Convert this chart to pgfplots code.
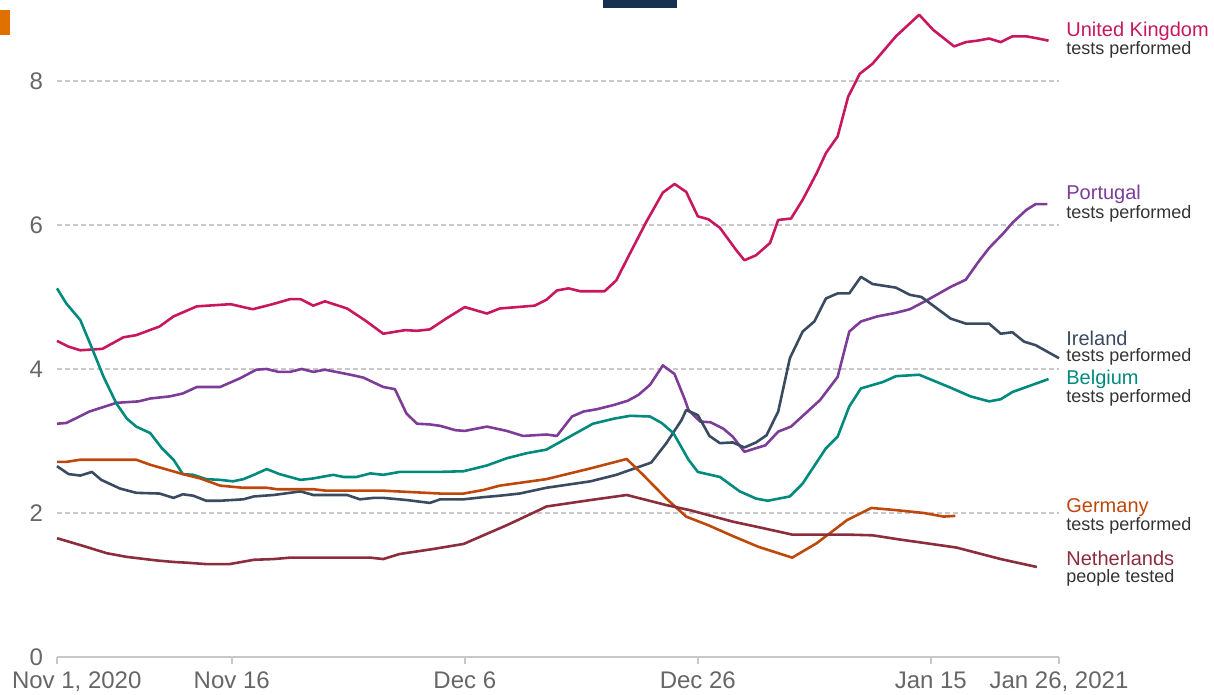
\documentclass[border=0pt]{standalone}
\usepackage{pgfplots}
\pgfplotsset{compat=1.18}
\usepackage{fontspec}
\setmainfont{Liberation Sans}
\definecolor{ukc}{RGB}{200,23,95}
\definecolor{ptc}{RGB}{125,60,152}
\definecolor{iec}{RGB}{58,74,96}
\definecolor{bec}{RGB}{0,138,126}
\definecolor{dec}{RGB}{190,72,12}
\definecolor{nlc}{RGB}{140,45,60}
\definecolor{tickc}{RGB}{102,102,102}
\definecolor{subc}{RGB}{51,51,51}
\definecolor{gridc}{RGB}{200,200,200}
\definecolor{orsq}{RGB}{224,112,0}
\definecolor{navy}{RGB}{22,50,80}
\begin{document}
\begin{tikzpicture}
\begin{axis}[
  scale only axis, width=501bp, height=328.5bp,
  xmin=0, xmax=86, ymin=0, ymax=9.125,
  clip=false,
  axis x line*=bottom, axis y line*=left,
  x axis line style={-, draw=gridc, line width=0.8pt},
  y axis line style={draw=none},
  ytick={0,2,4,6,8},
  ymajorgrids, major grid style={dash pattern=on 2.5bp off 1.5bp, draw=gridc, line width=0.6pt},
  ytick style={draw=none},
  xtick={0,15,35,55,75,86},
  xticklabels={{\makebox[0pt][l]{\hspace*{-22.5bp}Nov 1, 2020}},{Nov 16},{Dec 6},{Dec 26},{Jan 15},{Jan 26, 2021}},
  xtick pos=bottom, tick align=outside,
  major tick length=3.5bp,
  xtick style={draw=gridc, line width=0.8pt},
  tick label style={font=\fontsize{12bp}{14bp}\selectfont, text=tickc},
  xticklabel style={yshift=-0.5bp},
  /pgf/number format/assume math mode=true,
  every axis plot/.append style={line width=1.3pt, line join=round, no markers},
]
\coordinate (A) at (rel axis cs:0,0);
\coordinate (B) at (rel axis cs:1,1);
% United Kingdom
\addplot[ukc] coordinates {(0,4.39)(1,4.31)(2,4.26)(3.9,4.28)(5.7,4.44)(6.8,4.47)(8.8,4.59)(10,4.73)(12,4.87)(14.9,4.90)(16.8,4.83)(18.5,4.90)(20,4.97)(20.9,4.97)(22,4.88)(23,4.94)(24.9,4.84)(26.4,4.68)(28,4.49)(29.9,4.54)(30.9,4.53)(32,4.55)(33.4,4.70)(35,4.86)(36.9,4.77)(38,4.84)(41,4.88)(42,4.96)(42.9,5.09)(43.9,5.12)(44.9,5.08)(47,5.08)(48,5.23)(49,5.55)(50.6,6.05)(52,6.45)(53,6.57)(54,6.46)(55,6.12)(55.9,6.08)(56.9,5.96)(58.3,5.65)(59,5.51)(60,5.58)(61.2,5.75)(61.9,6.07)(63,6.09)(64,6.35)(65.2,6.72)(66,7.0)(67,7.23)(67.9,7.78)(68.9,8.10)(70,8.24)(72,8.62)(74,8.92)(75.2,8.71)(77,8.48)(78,8.54)(79,8.56)(80,8.59)(81,8.54)(82,8.62)(83.2,8.62)(84.2,8.59)(85.1,8.56)};
% Portugal
\addplot[ptc] coordinates {(0,3.24)(0.8,3.25)(2.8,3.41)(5.1,3.53)(7,3.55)(8,3.59)(9.7,3.62)(10.8,3.66)(12,3.75)(14,3.75)(15.7,3.87)(17.1,3.99)(18,4.00)(19,3.96)(20,3.96)(21,4.00)(22,3.96)(23,3.99)(25.2,3.92)(26.3,3.88)(28,3.75)(29,3.72)(30,3.38)(30.9,3.24)(32,3.23)(32.9,3.21)(34.2,3.15)(35,3.14)(36.9,3.20)(38.6,3.14)(40,3.07)(42,3.09)(42.9,3.07)(44.2,3.34)(45.2,3.41)(46.3,3.44)(47.8,3.50)(49,3.56)(49.9,3.64)(50.9,3.78)(52,4.05)(53,3.93)(53.9,3.57)(54.2,3.43)(55.2,3.27)(56.1,3.26)(57.2,3.17)(58,3.06)(59,2.85)(60.8,2.94)(61.9,3.13)(63,3.20)(65.5,3.57)(67,3.89)(68,4.52)(69,4.66)(70.4,4.73)(72,4.78)(73.2,4.83)(74.5,4.94)(76.7,5.14)(78,5.24)(79,5.47)(80,5.68)(81.2,5.88)(82,6.03)(83.2,6.21)(84,6.29)(85,6.29)};
% Ireland
\addplot[iec] coordinates {(0,2.65)(1,2.54)(2,2.52)(3,2.57)(3.8,2.46)(5.4,2.34)(6.8,2.28)(8.8,2.27)(10,2.21)(10.8,2.26)(11.7,2.24)(12.8,2.17)(14,2.17)(16,2.19)(16.9,2.23)(18.6,2.25)(20.9,2.30)(22,2.25)(24.9,2.25)(26,2.19)(27.2,2.21)(28,2.21)(30,2.18)(32,2.14)(32.9,2.19)(34.9,2.19)(36.6,2.22)(38,2.24)(39.7,2.27)(42,2.35)(45.8,2.44)(48,2.53)(51,2.70)(52.3,2.97)(53.6,3.29)(54,3.43)(55,3.36)(56,3.07)(56.9,2.97)(58,2.98)(59,2.91)(60,2.98)(60.9,3.08)(61.9,3.41)(62.9,4.15)(64,4.52)(65,4.66)(66,4.98)(67,5.05)(68,5.05)(69,5.28)(70,5.18)(72,5.13)(73.2,5.03)(74.2,5.00)(76.7,4.70)(78,4.63)(80,4.63)(81,4.49)(82,4.51)(83,4.38)(84,4.33)(86,4.15)};
% Belgium
\addplot[bec] coordinates {(0,5.12)(0.8,4.91)(2,4.68)(3,4.29)(4,3.89)(5.1,3.52)(6,3.31)(6.8,3.20)(8,3.11)(9,2.90)(10,2.74)(10.8,2.54)(11.7,2.53)(12.8,2.47)(14,2.46)(15.1,2.44)(16,2.47)(16.9,2.53)(18,2.61)(19.1,2.54)(20.9,2.46)(22,2.48)(23.7,2.53)(24.6,2.50)(25.7,2.50)(26.9,2.55)(28,2.53)(29.4,2.57)(32.6,2.57)(34.9,2.58)(36.9,2.66)(38.6,2.76)(40.3,2.83)(42,2.88)(44,3.06)(46,3.24)(47.8,3.31)(49.2,3.35)(50.9,3.34)(51.9,3.25)(52.9,3.11)(53.5,2.94)(54.2,2.74)(55,2.57)(56.9,2.50)(58.6,2.30)(60,2.20)(61,2.17)(62.9,2.23)(64,2.41)(66,2.90)(67,3.06)(68,3.48)(69,3.73)(70.9,3.82)(72,3.90)(74,3.92)(76.7,3.74)(78.4,3.62)(80,3.55)(81,3.58)(82,3.68)(85.1,3.86)};
% Germany
\addplot[dec] coordinates {(0,2.71)(0.8,2.71)(2,2.74)(6.8,2.74)(8,2.67)(10.8,2.54)(12.3,2.48)(14,2.38)(16,2.35)(18,2.35)(18.9,2.33)(22,2.33)(23.1,2.31)(28,2.31)(29.2,2.30)(32.9,2.27)(34.9,2.27)(36.6,2.32)(38,2.38)(42,2.47)(45.8,2.62)(48.9,2.75)(50.3,2.53)(52.3,2.20)(54,1.95)(55.9,1.83)(58,1.68)(60.2,1.53)(63.1,1.38)(65.2,1.58)(67.8,1.90)(69.9,2.07)(72,2.04)(74.4,2.00)(76.1,1.95)(77.1,1.96)};
% Netherlands
\addplot[nlc] coordinates {(0,1.65)(2.3,1.54)(4.3,1.44)(6,1.39)(8.6,1.34)(10,1.32)(11.1,1.31)(12.8,1.29)(14.8,1.29)(16.9,1.35)(18.6,1.36)(20,1.38)(26.9,1.38)(28,1.36)(29.4,1.43)(32.3,1.50)(34.9,1.57)(36.6,1.69)(38.6,1.83)(41.5,2.05)(42,2.09)(45.8,2.18)(48.9,2.25)(52.3,2.11)(54.3,2.04)(58,1.88)(60.3,1.80)(63.1,1.70)(67.8,1.70)(70,1.69)(72.4,1.63)(74.6,1.58)(77.2,1.52)(81,1.36)(84.1,1.25)};
% labels
\begin{scope}[every node/.style={anchor=west, inner sep=0pt, font=\fontsize{10bp}{12bp}\selectfont}]
\node[text=ukc] at (axis cs:86.6,8.69) {United Kingdom};
\node[text=ptc] at (axis cs:86.6,6.43) {Portugal};
\node[text=iec] at (axis cs:86.6,4.43) {Ireland};
\node[text=bec] at (axis cs:86.6,3.86) {Belgium};
\node[text=dec] at (axis cs:86.6,2.08) {Germany};
\node[text=nlc] at (axis cs:86.6,1.375) {Netherlands};
\end{scope}
\begin{scope}[every node/.style={anchor=west, inner sep=0pt, text=subc, font=\fontsize{9bp}{11bp}\selectfont}]
\node at (axis cs:86.6,8.43) {tests performed};
\node at (axis cs:86.6,6.15) {tests performed};
\node at (axis cs:86.6,4.17) {tests performed};
\node at (axis cs:86.6,3.60) {tests performed};
\node at (axis cs:86.6,1.82) {tests performed};
\node at (axis cs:86.6,1.10) {people tested};
\end{scope}
\end{axis}
\fill[orsq] ([shift={(-28.5bp,311bp)}]A) rectangle ([shift={(-23.5bp,323.5bp)}]A);
\fill[navy] ([shift={(273bp,324.5bp)}]A) rectangle ([shift={(310bp,328.5bp)}]A);
\pgfresetboundingbox
\path ([shift={(-28.5bp,-19bp)}]A) rectangle ([shift={(77.5bp,0bp)}]B);
\end{tikzpicture}
\end{document}
